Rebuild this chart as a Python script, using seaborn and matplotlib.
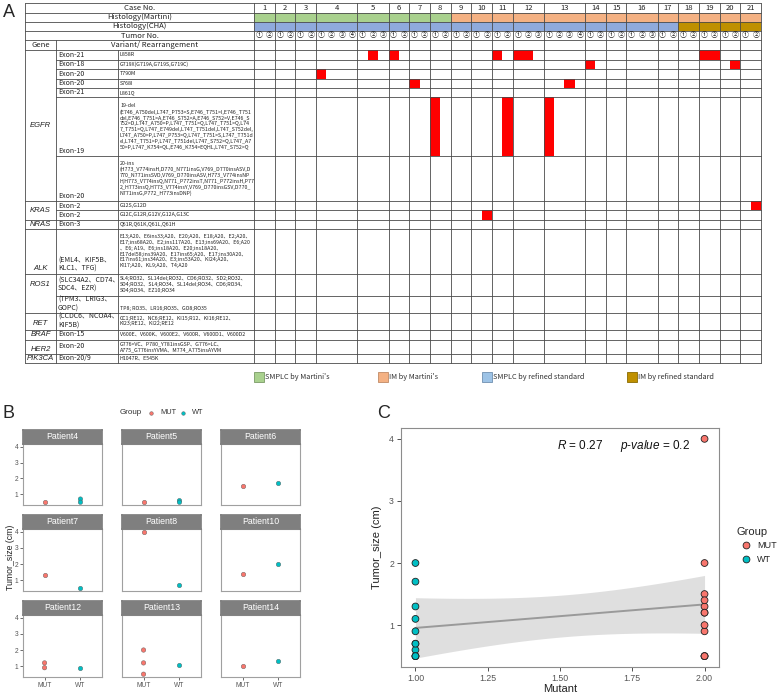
import numpy as np
import pandas as pd
import matplotlib
matplotlib.use("Agg")
import matplotlib.pyplot as plt
import seaborn as sns
from matplotlib.patches import Rectangle
from matplotlib.ticker import FormatStrFormatter

sns.set_theme(style="white")
plt.rcParams['font.family'] = ['Liberation Sans', 'DejaVu Sans']
plt.rcParams['mathtext.fontset'] = 'custom'
plt.rcParams['mathtext.it'] = 'Liberation Sans:italic'
plt.rcParams['mathtext.rm'] = 'Liberation Sans'
CJK = ['Noto Sans CJK SC', 'DejaVu Sans']

# ---------------- panel A data ----------------
cases = list(range(1, 22))
tumor_counts = [2, 2, 2, 4, 3, 2, 2, 2, 2, 2, 2, 3, 4, 2, 2, 3, 2, 2, 2, 2, 2]
hist_martini = ['SMPLC'] * 8 + ['IM'] * 13
hist_cha = ['SMPLC'] * 17 + ['IM'] * 4

genes = ['EGFR', 'KRAS', 'NRAS', 'ALK', 'ROS1', 'RET', 'BRAF', 'HER2', 'PIK3CA']
gene_nrows = [7, 2, 1, 1, 2, 1, 1, 1, 1]
exons = ['Exon-21', 'Exon-18', 'Exon-20', 'Exon-20', 'Exon-21', 'Exon-19', 'Exon-20',
         'Exon-2', 'Exon-2', 'Exon-3',
         '(EML4、KIF5B、\nKLC1、TFG)',
         '(SLC34A2、CD74、\nSDC4、EZR)',
         '(TPM3、LRIG3、\nGOPC)',
         '(CCDC6、NCOA4、\nKIF5B)',
         'Exon-15', 'Exon-20', 'Exon-20/9']
variants = [
    'L858R',
    'G719X(G719A,G719S,G719C)',
    'T790M',
    'S768I',
    'L861Q',
    '19-del\n(E746_A750del,L747_P753>S,E746_T751>I,E746_T751\n'
    'del,E746_T751>A,E746_S752>A,E746_S752>V,E746_S\n'
    '752>D,L747_A750>P,L747_T751>Q,L747_T751>Q,L74\n'
    '7_T751>Q,L747_E749del,L747_T751del,L747_S752del,\n'
    'L747_A750>P,L747_P753>Q,L747_T751>S,L747_T751d\n'
    'el,L747_T751>P,L747_T751del,L747_S752>Q,L747_A7\n'
    '50>P,L747_K754>QL,E746_K754>EQHL,L747_S752>Q',
    '20-ins\n(H773_V774insH,D770_N771insG,V769_D770insASV,D\n'
    '770_N771insSVD,V769_D770insASV,H773_V774insNP\n'
    'H,H773_V774insQ,N771_P772insT,N771_P772insH,P77\n'
    '2_H773insQ,H773_V774insY,V769_D770insGSV,D770_\n'
    'N771insG,P772_H773insDNP)',
    'G12S,G12D',
    'G12C,G12R,G12V,G12A,G13C',
    'Q61R,Q61K,Q61L,Q61H',
    'E13;A20、E6ins33;A20、E20;A20、E18;A20、E2;A20、\n'
    'E17;ins68A20、E2;ins117A20、E13;ins69A20、E6;A20\n'
    '、E6; A19、E6;ins18A20、E20;ins18A20、\n'
    'E17del58;ins39A20、E17ins65;A20、E17;ins30A20、\n'
    'E17ins61;ins34A20、E3;ins53A20、KI24;A20、\n'
    'KI17;A20、KL9;A20、T4;A20',
    'SL4;RO32、SL14del;RO32、CD6;RO32、SD2;RO32、\n'
    'SD4;RO32、SL4;RO34、SL14del;RO34、CD6;RO34、\n'
    'SD4;RO34、EZ10;RO34',
    'TP8; RO35、LR16;RO35、GO8;RO35',
    'CC1;RE12、NC6;RE12、KI15;R12、KI16;RE12、\nKI23;RE12、KI22;RE12',
    'V600E、V600K、V600E2、V600R、V600D1、V600D2',
    'G776>VC、P780_Y781insGSP、G776>LC、\nA775_G776insYVMA、M774_A775insAYVM',
    'H1047R、E545K',
]
# detected alterations: variant row, case, tumor number
mut_row = [0, 0, 0, 0, 0, 0, 0, 1, 1, 2, 3, 3, 5, 5, 5, 7, 8]
mut_case = [5, 6, 11, 12, 12, 19, 19, 14, 20, 4, 7, 13, 8, 11, 13, 21, 10]
mut_tumor = [2, 1, 1, 1, 2, 1, 2, 1, 2, 1, 1, 3, 1, 2, 1, 2, 2]

legend_labels = ["SMPLC by Martini's", "IM by Martini's",
                 "SMPLC by refined standard", "IM by refined standard"]

# ---------------- panel B / C data ----------------
patients = ['Patient4', 'Patient5', 'Patient6', 'Patient7', 'Patient8',
            'Patient10', 'Patient12', 'Patient13', 'Patient14']
pt_patient = ['Patient4', 'Patient4', 'Patient4', 'Patient5', 'Patient5', 'Patient5',
              'Patient6', 'Patient6', 'Patient7', 'Patient7', 'Patient8', 'Patient8',
              'Patient10', 'Patient10', 'Patient12', 'Patient12', 'Patient12',
              'Patient13', 'Patient13', 'Patient13', 'Patient13', 'Patient14', 'Patient14']
pt_group = ['MUT', 'WT', 'WT', 'MUT', 'WT', 'WT',
            'MUT', 'WT', 'MUT', 'WT', 'MUT', 'WT',
            'MUT', 'WT', 'MUT', 'MUT', 'WT',
            'MUT', 'MUT', 'MUT', 'WT', 'MUT', 'WT']
pt_size = [0.5, 0.7, 0.5, 0.5, 0.6, 0.5,
           1.5, 1.7, 1.3, 0.5, 4.0, 0.7,
           1.4, 2.0, 1.2, 0.9, 0.9,
           2.0, 1.2, 0.5, 1.1, 1.0, 1.3]

df = pd.DataFrame({'patient': pt_patient, 'Group': pt_group, 'size': pt_size})
df['Mutant'] = df['Group'].map({'MUT': 2, 'WT': 1})
palette = {'MUT': '#F8766D', 'WT': '#00BFC4'}

# ---------------- layout (pixels) ----------------
W, H = 778, 693
fig = plt.figure(figsize=(W / 100, H / 100), dpi=100)


def frect(x0, y0, x1, y1):
    return [x0 / W, 1 - y1 / H, (x1 - x0) / W, (y1 - y0) / H]


axA = fig.add_axes([0, 0, 1, 1])
axA.set_xlim(0, W)
axA.set_ylim(H, 0)
axA.axis('off')

X0, XG, XE, XV, XR = 25, 56, 118, 254, 761
head_y = [3, 12.5, 21.5, 31, 40, 50]
row_h = [9.5, 9.5, 9.5, 9.5, 9, 59, 45, 9, 9.5, 9.5, 44.5, 22, 17, 17, 10, 14, 9.5]
row_y = head_y[-1] + np.concatenate([[0], np.cumsum(row_h)])
YB = row_y[-1]

tw = (XR - XV) / sum(tumor_counts)
c_start = XV + tw * np.concatenate([[0], np.cumsum(tumor_counts)[:-1]])
c_end = c_start + tw * np.array(tumor_counts)

col_martini = {'SMPLC': '#a9d18e', 'IM': '#f4b183'}
col_cha = {'SMPLC': '#8faadc', 'IM': '#bf9000'}
for i in range(len(cases)):
    axA.add_patch(Rectangle((c_start[i], head_y[1]), c_end[i] - c_start[i],
                            head_y[2] - head_y[1], fc=col_martini[hist_martini[i]], ec='none'))
    axA.add_patch(Rectangle((c_start[i], head_y[2]), c_end[i] - c_start[i],
                            head_y[3] - head_y[2], fc=col_cha[hist_cha[i]], ec='none'))

for r, c, t in zip(mut_row, mut_case, mut_tumor):
    axA.add_patch(Rectangle((c_start[c - 1] + (t - 1) * tw, row_y[r]), tw, row_h[r],
                            fc='#ff0000', ec='none', zorder=2))

lc, lw = '#4a4a4a', 0.6
for y in head_y:
    axA.plot([X0, XR], [y, y], color=lc, lw=lw, zorder=3)
gene_bounds = np.concatenate([[0], np.cumsum(gene_nrows)])
for k in range(1, len(row_y)):
    x_from = X0 if k in gene_bounds else XG
    axA.plot([x_from, XR], [row_y[k], row_y[k]], color=lc, lw=lw, zorder=3)
for x, y_from in [(X0, head_y[0]), (XR, head_y[0]), (XG, head_y[4]),
                  (XE, head_y[5]), (XV, head_y[0])]:
    axA.plot([x, x], [y_from, YB], color=lc, lw=lw, zorder=3)
for x in c_end[:-1]:
    axA.plot([x, x], [head_y[0], YB], color=lc, lw=lw, zorder=3)

# header texts
xm = (X0 + XV) / 2
for k, lab in enumerate(['Case No.', 'Histology(Martini)', 'Histology(CHA)', 'Tumor No.']):
    axA.text(xm, (head_y[k] + head_y[k + 1]) / 2, lab, ha='center', va='center',
             fontsize=5.5, family=CJK, color='#222222')
    if k == 0:
        for i, c in enumerate(cases):
            axA.text((c_start[i] + c_end[i]) / 2, (head_y[0] + head_y[1]) / 2, str(c),
                     ha='center', va='center', fontsize=5.5, family=CJK, color='#222222')
for i, n in enumerate(tumor_counts):
    for t in range(n):
        axA.text(c_start[i] + (t + 0.5) * tw, (head_y[3] + head_y[4]) / 2, chr(0x2460 + t),
                 ha='center', va='center', fontsize=5, family=CJK, color='#222222')
axA.text((X0 + XG) / 2, (head_y[4] + head_y[5]) / 2, 'Gene', ha='center', va='center',
         fontsize=5.5, family=CJK, color='#222222')
axA.text((XG + XV) / 2, (head_y[4] + head_y[5]) / 2, 'Variant/ Rearrangement', ha='center',
         va='center', fontsize=5.5, family=CJK, color='#222222')

gene_pos = [0.5, 0.5, 0.5, 0.88, 0.27, 0.65, 0.5, 0.7, 0.5]
for g, gname in enumerate(genes):
    y0, y1 = row_y[gene_bounds[g]], row_y[gene_bounds[g + 1]]
    axA.text((X0 + XG) / 2, y0 + gene_pos[g] * (y1 - y0), gname, ha='center', va='center',
             fontsize=5.5, style='italic', color='#222222')

for r in range(len(exons)):
    y0, y1 = row_y[r], row_y[r + 1]
    if r in (5, 6, 10):
        axA.text(XG + 2, y1 - 1, exons[r], ha='left', va='bottom', fontsize=5,
                 family=CJK, color='#222222', linespacing=1.05)
    else:
        axA.text(XG + 2, (y0 + y1) / 2, exons[r], ha='left', va='center', fontsize=5,
                 family=CJK, color='#222222', linespacing=1.05)
    if r == 12:
        axA.text(XE + 2, y1 - 1.5, variants[r], ha='left', va='bottom', fontsize=3.8,
                 family=CJK, color='#222222', linespacing=1.2)
    else:
        axA.text(XE + 2, (y0 + y1) / 2, variants[r], ha='left', va='center', fontsize=3.8,
                 family=CJK, color='#222222', linespacing=1.2)

leg_x = [254, 378, 482, 627]
leg_fc = ['#a9d18e', '#f4b183', '#9dc3e6', '#bf9000']
leg_ec = ['#7a9a66', '#c08a66', '#6f8fb0', '#8a6a00']
for x, fc, ec, lab in zip(leg_x, leg_fc, leg_ec, legend_labels):
    axA.add_patch(Rectangle((x, 372), 10, 10, fc=fc, ec=ec, lw=0.6))
    axA.text(x + 11, 377, lab, ha='left', va='center', fontsize=5.3, family=CJK,
             color='#333333')

fig.text(3 / W, 1 - 4 / H, 'A', ha='left', va='top', fontsize=13)
fig.text(3 / W, 1 - 405 / H, 'B', ha='left', va='top', fontsize=13)
fig.text(377 / W, 1 - 405 / H, 'C', ha='left', va='top', fontsize=13)

# ---------------- panel B ----------------
col_x = [(23, 102), (122, 201), (221, 300)]
row_py = [(444, 505), (529, 591), (615, 677)]
strip_h = 14
for k, p in enumerate(patients):
    r, c = divmod(k, 3)
    x0, x1 = col_x[c]
    y0, y1 = row_py[r]
    ax = fig.add_axes(frect(x0, y0, x1, y1))
    sub = df[df['patient'] == p]
    sns.stripplot(data=sub, x='Group', y='size', hue='Group', order=['MUT', 'WT'],
                  hue_order=['MUT', 'WT'], palette=palette, jitter=False, size=3.2,
                  linewidth=0.3, edgecolor='#555555', legend=False, ax=ax)
    ax.set_xlim(-0.6, 1.6)
    ax.set_ylim(0.325, 4.175)
    ax.set_yticks([1, 2, 3, 4])
    ax.set_xlabel('')
    ax.set_ylabel('')
    for s in ax.spines.values():
        s.set_color('#a0a0a0')
        s.set_linewidth(0.8)
    ax.tick_params(length=2, width=0.5, color='#333333', labelsize=4.8,
                   labelcolor='#555555', pad=1.5,
                   bottom=(r == 2), labelbottom=(r == 2),
                   left=(c == 0), labelleft=(c == 0))
    sax = fig.add_axes(frect(x0, y0 - strip_h, x1, y0))
    sax.set_facecolor('#7f7f7f')
    sax.set_xticks([])
    sax.set_yticks([])
    for s in sax.spines.values():
        s.set_color('#7f7f7f')
    sax.text(0.5, 0.5, p, ha='center', va='center', color='white', fontsize=6.3,
             transform=sax.transAxes)

fig.text(11 / W, 1 - 557 / H, 'Tumor_size (cm)', rotation=90, ha='center', va='center',
         fontsize=6.3, color='#222222')
fig.text(142 / W, 1 - 413 / H, 'Group', ha='right', va='center', fontsize=5.8, color='#333333')
for xd, lab in [(151, 'MUT'), (183, 'WT')]:
    gcol = palette[lab]
    fig.add_artist(plt.Line2D([xd / W], [1 - 413 / H], marker='o', ms=2.6, mfc=gcol,
                              mec='#555555', mew=0.3, lw=0))
    fig.text((xd + 9) / W, 1 - 413 / H, lab, ha='left', va='center', fontsize=5.3,
             color='#333333')

# ---------------- panel C ----------------
axC = fig.add_axes(frect(401, 428, 719, 667))
# linear fit with a t-based 95% confidence band (as ggplot's geom_smooth(method='lm'))
xv = df['Mutant'].to_numpy(float)
yv = df['size'].to_numpy(float)
n = len(xv)
slope, icpt = np.polyfit(xv, yv, 1)
resid = yv - (icpt + slope * xv)
s_err = np.sqrt(np.sum(resid ** 2) / (n - 2))
try:
    from scipy import stats
    tcrit = stats.t.ppf(0.975, n - 2)
except Exception:
    tcrit = 2.0796
xg = np.linspace(xv.min(), xv.max(), 100)
se_fit = s_err * np.sqrt(1 / n + (xg - xv.mean()) ** 2 / np.sum((xv - xv.mean()) ** 2))
yfit = icpt + slope * xg
axC.fill_between(xg, yfit - tcrit * se_fit, yfit + tcrit * se_fit, color='#dcdcdc',
                 alpha=0.9, lw=0, zorder=1)
sns.regplot(data=df, x='Mutant', y='size', scatter=False, ci=None,
            color='#9a9a9a', line_kws={'lw': 1.4, 'zorder': 2}, ax=axC)
sns.scatterplot(data=df, x='Mutant', y='size', hue='Group', hue_order=['MUT', 'WT'],
                palette=palette, s=24, edgecolor='#222222', linewidth=0.6, ax=axC, zorder=4)
axC.set_xlim(0.95, 2.05)
axC.set_ylim(0.325, 4.175)
axC.set_xticks([1.0, 1.25, 1.5, 1.75, 2.0])
axC.set_yticks([1, 2, 3, 4])
axC.xaxis.set_major_formatter(FormatStrFormatter('%.2f'))
axC.tick_params(length=3, width=0.6, color='#333333', labelsize=6.3, labelcolor='#555555',
                pad=2, bottom=True, left=True)
for s in axC.spines.values():
    s.set_color('#8c8c8c')
    s.set_linewidth(0.8)
axC.set_xlabel('Mutant', fontsize=8, color='#222222', labelpad=1)
axC.set_ylabel('Tumor_size (cm)', fontsize=8, color='#222222', labelpad=5)
axC.text(0.49, 0.925, r'$\mathit{R}$ = 0.27', transform=axC.transAxes, ha='left',
         va='center', fontsize=8.5, color='#111111')
axC.text(0.69, 0.925, r'$\mathit{p}$-$\mathit{value}$ = 0.2', transform=axC.transAxes,
         ha='left', va='center', fontsize=8.5, color='#111111')
sns.move_legend(axC, loc='upper left', bbox_to_anchor=(1.03, 0.62), title='Group',
                frameon=False, fontsize=6.5, title_fontsize=8, markerscale=1.0,
                handletextpad=0.3, labelspacing=0.5)
leg = axC.get_legend()
leg._legend_box.align = 'left'

fig.savefig('out.png', dpi=100)
